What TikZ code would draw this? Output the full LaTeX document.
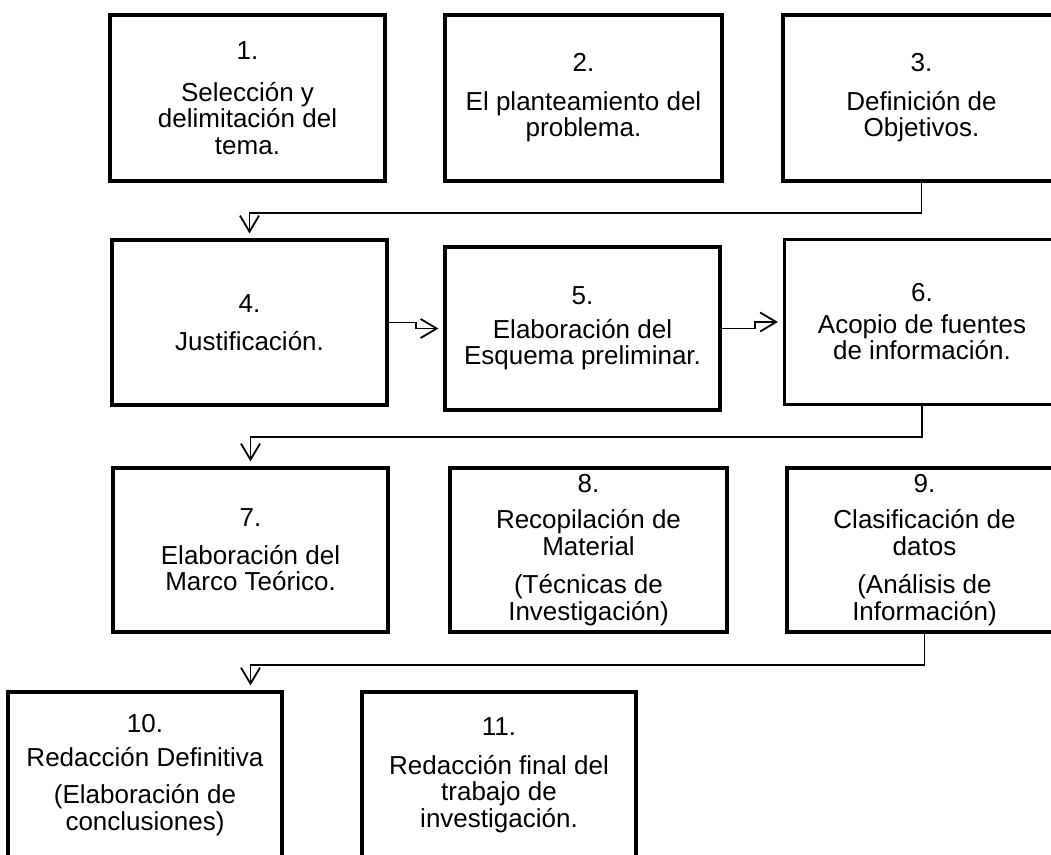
\documentclass[tikz,border=0pt]{standalone}
\usepackage{fontspec}
\setmainfont{Liberation Sans}
\usetikzlibrary{arrows.meta}

\begin{document}
\begin{tikzpicture}[x=1pt,y=-1pt,
  caja/.style={draw,line width=3.2pt,minimum width=275pt,minimum height=165pt,inner sep=0pt,align=center,font=\fontsize{26}{26.5}\selectfont},
  flecha/.style={line width=1.8pt,-{Straight Barb[length=16pt,width=19pt,line width=1.8pt]},shorten >=5pt}]
\clip (0,0) rectangle (1051,854);
\node[caja,minimum height=166pt] (p1) at (247.5,98) {1.\\[15pt]Selección y\\delimitación del\\tema.};
\node[caja,minimum height=166pt,minimum width=277pt] (p2) at (583.5,98) {2.\\[12pt]El planteamiento del\\problema.};
\node[caja,minimum height=166pt,minimum width=277pt] (p3) at (921.5,98) {3.\\[12pt]Definición de\\Objetivos.};
\node[caja] (p4) at (249.5,322.5) {4.\\[12pt]Justificación.};
\node[caja,minimum height=163pt] (p5) at (582.5,328.5) {5.\\[7pt]Elaboración del\\Esquema preliminar.};
\node[caja] (p6) at (922,322) {6.\\[5pt]Acopio de fuentes\\de información.};
\node[caja,minimum height=164pt] (p7) at (250.5,550) {7.\\[11pt]Elaboración del\\Marco Teórico.};
\node[caja,minimum height=164pt,minimum width=277pt] (p8) at (588.5,550) {8.\\[10pt]Recopilación de\\Material\\[12pt](Técnicas de\\Investigación)};
\node[caja,minimum height=164pt] (p9) at (924.5,550) {9.\\[10pt]Clasificación de\\datos\\[12pt](Análisis de\\Información)};
\node[caja,minimum height=166pt,minimum width=274pt] (p10) at (145,775) {10.\\[7pt]Redacción Definitiva\\[11pt](Elaboración de\\conclusiones)};
\node[caja,minimum height=166pt,minimum width=274pt] (p11) at (499,775) {11.\\[12pt]Redacción final del\\trabajo de\\investigación.};
\draw[flecha] (p3.south) -- ++(0,30) -| (p4.north);
\draw[flecha] (p4.east) -- ++(27,0) |- (p5.west);
\draw[flecha] (p5.east) -- ++(33,0) |- (p6.west);
\draw[flecha] (p6.south) -- ++(0,31) -| (p7.north);
\draw[flecha] (p9.south) -- ++(0,31) -| (p10.north -| p7.north);
\end{tikzpicture}
\end{document}
